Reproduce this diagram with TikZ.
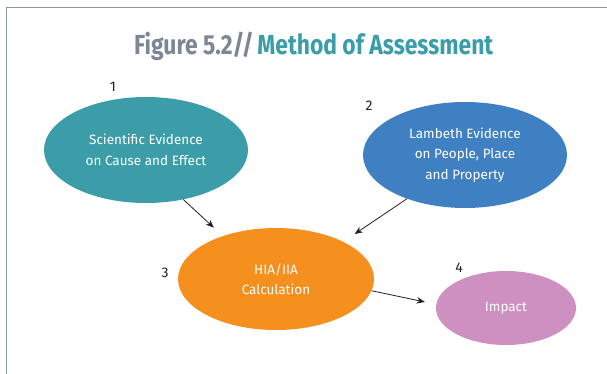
\documentclass[tikz,border=0pt]{standalone}
\usepackage{fontspec}
\setmainfont{Fira Sans}
\usetikzlibrary{shapes.geometric,arrows.meta}
\definecolor{framegray}{HTML}{8C969E}
\definecolor{titlegray}{HTML}{7B8794}
\definecolor{titleteal}{HTML}{3A9EAA}
\definecolor{cteal}{HTML}{3B9DA8}
\definecolor{cblue}{HTML}{3F80C2}
\definecolor{corange}{HTML}{F5901F}
\definecolor{cpink}{HTML}{CE8FC1}
\definecolor{arrowcol}{HTML}{231F20}
\begin{document}
\begin{tikzpicture}[x=1pt,y=-1pt,
  bubble/.style={ellipse, draw=none, inner sep=0pt, text=white, align=center,
    font=\fontsize{13.5}{20.5}\selectfont},
  numlabel/.style={inner sep=0pt, font=\fontsize{14}{16}\selectfont, text=arrowcol},
  arr/.style={draw=arrowcol, line width=0.8pt, -{Stealth[length=8pt,width=6.5pt]}},
  frame/.style={draw=framegray, line width=1.6pt}]
\useasboundingbox (0,0) rectangle (607,374);
\fill[white] (0,0) rectangle (607,374);
\draw[frame] (6.5,374) -- (6.5,7.5) -- (607,7.5);
\node[anchor=base west, inner sep=0pt] (title) at (134,55)
  {\resizebox{359pt}{22.5pt}{\bfseries\color{titlegray}Figure 5.2//\,\color{titleteal}Method of Assessment}};
\node[bubble, fill=cteal, minimum width=204pt, minimum height=106pt] (n1) at (146,150)
  {Scientific Evidence\\on Cause and Effect};
\node[bubble, fill=cblue, minimum width=204pt, minimum height=106pt] (n2) at (465,155)
  {Lambeth Evidence\\on People, Place\\and Property};
\node[bubble, fill=corange, minimum width=196pt, minimum height=102pt] (n3) at (276,279)
  {HIA/IIA\\Calculation};
\node[bubble, fill=cpink, minimum width=140pt, minimum height=74pt] (n4) at (506,308)
  {Impact};
\node[numlabel] (l1) at (113,87) {1};
\node[numlabel] (l2) at (369,106) {2};
\node[numlabel] (l3) at (165,273) {3};
\node[numlabel] (l4) at (459,268) {4};
\draw[arr, shorten >=12.3pt] (n1.-53.5) -- (n3.141.7);
\draw[arr, shorten >=13.8pt] (n2.-143.4) -- (n3.29.3);
\draw[arr, shorten >=11.6pt] (n3.-7.1) -- (n4.177);
\end{tikzpicture}
\end{document}
